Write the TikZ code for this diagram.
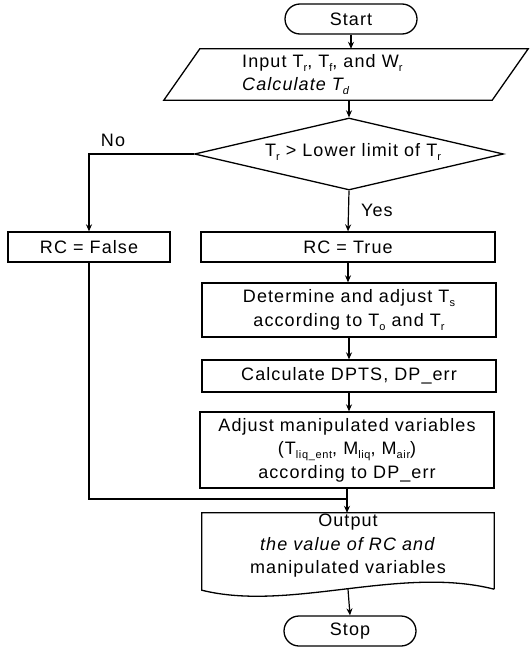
\documentclass[tikz,border=0pt]{standalone}
\usepackage{fontspec}
\setmainfont{Liberation Sans}[LetterSpace=6]
\usetikzlibrary{shapes.misc,shapes.geometric,arrows.meta}
\newcommand\sbs[1]{\raisebox{-4pt}{\fontsize{11}{11}\selectfont #1}}
\newcommand\fs{\fontsize{18}{23.5}\selectfont}
\begin{document}
\begin{tikzpicture}[x=1pt,y=-1pt,
  shp/.style={draw, line width=1.3pt},
  box/.style={shp, minimum width=294pt, inner sep=0pt, align=center, font=\fs},
  term/.style={shp, rounded rectangle, minimum width=132pt, minimum height=30pt, inner sep=0pt, font=\fs},
  arr/.style={-{Stealth[length=7pt,width=6pt]}, line width=1.2pt},
  ln/.style={line width=1.2pt},
  lbl/.style={font=\fs, inner sep=0pt}]
\useasboundingbox (0,0) rectangle (530,648);

\node[term] (start) at (351,19) {Start};

\node[minimum width=328pt, minimum height=51pt, inner sep=0pt] (input) at (346,74.5) {};
\draw[shp] ([xshift=18pt]input.north west) -- ([xshift=18pt]input.north east)
  -- ([xshift=-18pt]input.south east) -- ([xshift=-18pt]input.south west) -- cycle;
\node[lbl, anchor=west, align=left] (intext) at (242,74.5)
  {Input T\sbs{r}, T\sbs{f}, and W\sbs{r}\\\textit{Calculate T\sbs{d}}};

\node[shp, diamond, minimum width=309pt, minimum height=72pt, inner sep=0pt] (dec) at (349,154) {};
\node[lbl] (dectext) at (353,152) {T\sbs{r} > Lower limit of T\sbs{r}};

\node[box, minimum width=162pt, minimum height=30pt] (rcf) at (89,247) {RC = False};
\node[box, minimum height=30pt] (rct) at (348,247) {RC = True};
\node[box, minimum height=54pt] (det) at (349,310) {Determine and adjust T\sbs{s}\\according to T\sbs{o} and T\sbs{r}};
\node[box, minimum height=32pt] (calc) at (349,376) {Calculate DPTS, DP\_err};
\node[box, minimum height=76pt] (adj) at (347,450) {Adjust manipulated variables\\(T\sbs{liq\_ent}, M\sbs{liq}, M\sbs{air})\\according to DP\_err};

\node[minimum width=292pt, minimum height=76pt, inner sep=0pt] (out) at (348,551) {};
\draw[shp] (out.south east) -- (out.north east) -- (out.north west) -- ([yshift=-1pt]out.south west)
  .. controls +(88,22) and +(-94,-24) .. (out.south east);
\node[lbl, align=center] (outtext) at (348,546) {Output\\\textit{the value of RC and}\\manipulated variables};

\node[term] (stop) at (350,631) {Stop};

\coordinate (mj) at (348,499);

\draw[arr] (start.south) -- (start.south |- input.north);
\draw[arr] (dec.north |- input.south) -- (dec.north);
\draw[arr] (dec.west) -| (rcf.north);
\node[lbl] (no) at (113,140) {No};
\draw[arr] (dec.south) -- (rct.north);
\node[lbl, anchor=west] (yes) at (361,210) {Yes};
\draw[arr] (rct.south) -- (rct.south |- det.north);
\draw[arr] (det.south) -- (det.south |- calc.north);
\draw[arr] (calc.south) -- (calc.south |- adj.north);
\draw[arr] (adj.south) -- (adj.south |- out.north);
\draw[ln] (rcf.south) |- (mj);
\draw[arr] (out.south) -- (stop.north);
\end{tikzpicture}
\end{document}
